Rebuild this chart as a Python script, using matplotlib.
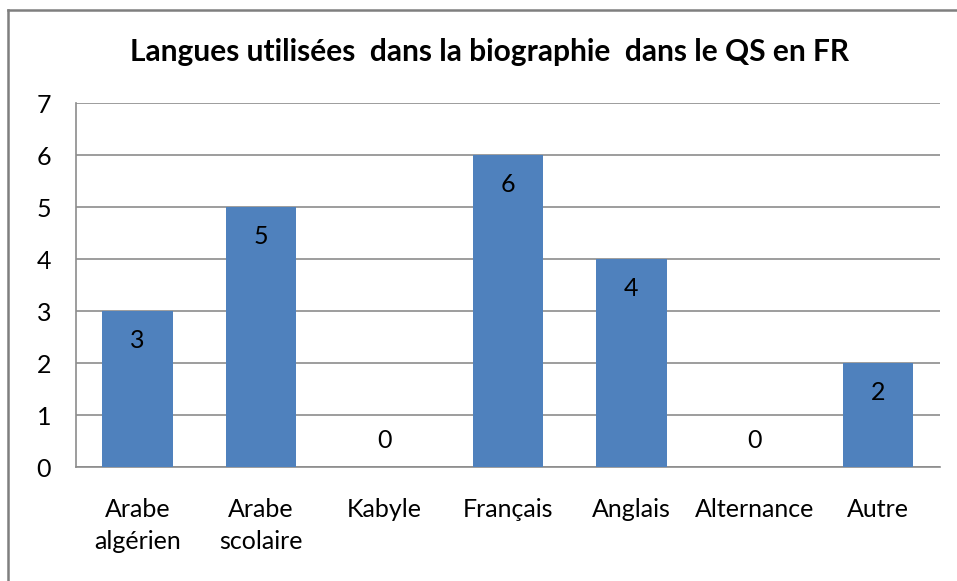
import matplotlib
matplotlib.use("Agg")
from matplotlib import pyplot as plt
from matplotlib.lines import Line2D

categories = ["Arabe\nalgérien", "Arabe\nscolaire", "Kabyle", "Français",
              "Anglais", "Alternance", "Autre"]
values = [3, 5, 0, 6, 4, 0, 2]
yticks = [0, 1, 2, 3, 4, 5, 6, 7]
title = "Langues utilisées  dans la biographie  dans le QS en FR"

plt.rcParams["font.family"] = ["Lato", "DejaVu Sans"]

fig = plt.figure(figsize=(9.57, 5.81), dpi=100)
ax = fig.add_axes([0.0794, 0.196, 0.9026, 0.6267])

x = range(len(categories))
ax.bar(x, values, width=0.571, color="#4F81BD", zorder=3)

for i, v in enumerate(values):
    off = -29 if v > 0 else 27
    ax.annotate(str(v), xy=(i, v), xytext=(0, off), textcoords="offset pixels",
                ha="center", va="center", fontsize=18, zorder=4)

ax.set_xlim(-0.5, len(categories) - 0.5)
ax.set_ylim(0, 7)
ax.set_yticks(yticks)
ax.set_xticks(list(x))
ax.set_xticklabels(categories, fontsize=18, linespacing=1.5)
ax.tick_params(axis="x", length=0, pad=22)
ax.tick_params(axis="y", length=0, pad=18, labelsize=18)
ax.grid(axis="y", color="#8c8c8c", linewidth=1.2, zorder=0)

for s in ["top", "right"]:
    ax.spines[s].set_visible(False)
for s in ["left", "bottom"]:
    ax.spines[s].set_color("#8c8c8c")
    ax.spines[s].set_linewidth(1.2)

fig.text(0.511, 0.91, title, ha="center", va="center", fontsize=21.5,
         fontweight="bold")

# chart frame (cut at right and bottom)
fig.add_artist(Line2D([8 / 957, 8 / 957], [0, 1 - 10 / 581],
                      color="#7f7f7f", linewidth=1.8))
fig.add_artist(Line2D([8 / 957, 1], [1 - 10 / 581, 1 - 10 / 581],
                      color="#7f7f7f", linewidth=1.8))

fig.savefig("out.png", dpi=100)
